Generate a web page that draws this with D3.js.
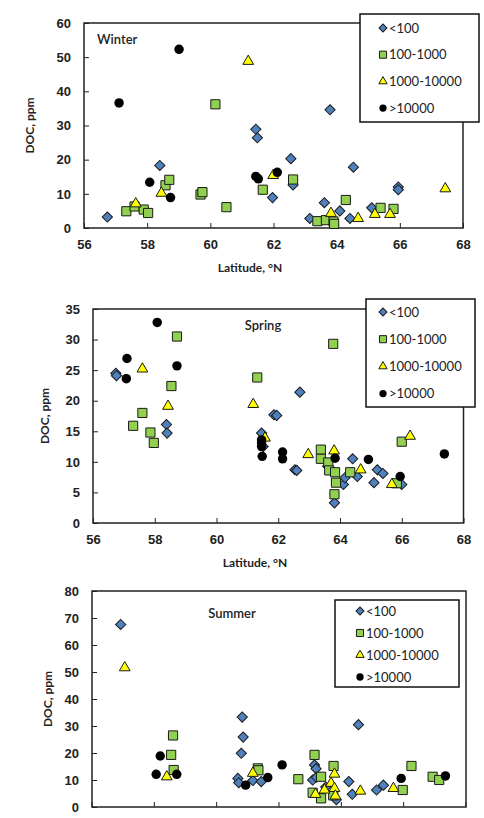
<!DOCTYPE html>
<html>
<head>
<meta charset="utf-8">
<script src="https://cdn.jsdelivr.net/npm/d3@7"></script>
<style>
  body { margin: 0; background: #fff; }
  svg { display: block; font-family: Lato, "Open Sans", sans-serif; }
  .tick text { font-weight: bold; font-size: 13px; fill: #222; }
</style>
</head>
<body>
<div id="chart"></div>
<script>
// classes (upstream area etc.)
var classes = ["<100", "100-1000", "1000-10000", ">10000"];
var xTicks = [56, 58, 60, 62, 64, 66, 68];

// [latitude, DOC]
var winterLt100 = [[56.74,3.2],[58.40,18.3],[61.44,28.9],[61.49,26.4],[63.79,34.6],[62.55,20.3],[62.62,12.6],[61.97,8.9],[64.53,17.8],[63.61,7.4],[64.10,5.0],[63.15,2.8],[64.42,2.8],[65.11,5.9],[65.95,12.0],[65.95,11.2]];
var winter100 = [[57.34,4.9],[57.60,6.3],[57.89,5.4],[58.03,4.4],[58.58,12.5],[58.70,14.1],[59.69,9.8],[59.75,10.5],[60.16,36.2],[60.51,6.1],[61.66,11.2],[62.62,14.2],[63.39,2.0],[63.66,2.3],[63.90,1.9],[63.92,1.2],[64.29,8.2],[65.39,5.9],[65.80,5.6]];
var winter1000 = [[57.64,7.1],[58.45,10.2],[61.20,48.8],[61.99,15.4],[63.82,4.3],[64.68,2.8],[65.21,4.0],[65.69,4.0],[67.44,11.5]];
var winterGt10000 = [[57.11,36.6],[59.01,52.3],[58.08,13.4],[58.74,8.9],[61.44,15.1],[61.52,14.4],[62.12,16.3]];

var springLt100 = [[56.74,24.5],[56.76,24.1],[58.38,16.1],[58.40,14.7],[61.46,14.7],[61.51,12.5],[61.86,17.7],[61.95,17.6],[62.70,21.4],[62.54,8.7],[62.60,8.6],[64.41,10.5],[64.11,6.3],[64.16,7.4],[64.56,7.6],[65.21,8.7],[65.39,8.1],[65.10,6.6],[66.00,6.3],[63.82,3.3],[63.60,9.3]];
var spring100 = [[57.30,15.9],[57.60,18.0],[57.86,14.8],[57.97,13.1],[58.54,22.4],[58.72,30.5],[61.32,23.8],[63.78,29.3],[63.38,12.0],[63.38,10.5],[63.62,9.9],[63.65,8.6],[63.84,8.3],[63.87,6.6],[63.82,4.7],[64.33,8.3],[65.84,6.5],[66.00,13.3]];
var spring1000 = [[57.60,25.2],[58.43,19.1],[61.19,19.4],[61.57,13.9],[62.97,11.2],[63.81,11.8],[64.67,8.7],[65.68,6.3],[66.27,14.2]];
var springGt10000 = [[58.08,32.8],[57.10,26.9],[57.08,23.6],[58.72,25.7],[61.46,13.6],[61.46,13.1],[61.46,12.5],[61.48,10.9],[62.14,11.6],[62.14,10.5],[63.84,10.6],[64.92,10.4],[65.95,7.6],[67.38,11.3]];

var summerLt100 = [[56.92,67.6],[60.82,33.3],[60.85,25.9],[60.79,19.9],[60.68,10.6],[60.71,9.0],[61.16,9.8],[61.43,9.4],[63.14,15.6],[63.19,14.2],[63.08,10.0],[63.20,11.0],[64.55,30.5],[64.24,9.4],[64.35,4.7],[65.13,6.3],[65.35,8.1],[63.84,2.7],[63.50,7.4]];
var summer100 = [[58.60,26.5],[58.54,19.3],[58.62,13.7],[61.32,14.3],[61.34,13.6],[62.62,10.3],[63.14,19.3],[63.08,5.3],[63.35,3.2],[63.35,11.2],[63.75,15.2],[63.74,4.3],[65.97,6.3],[66.25,15.2],[66.93,11.2],[67.14,10.0]];
var summer1000 = [[57.05,51.6],[58.40,11.2],[61.16,12.5],[63.17,4.7],[63.46,6.3],[63.67,8.8],[63.78,6.9],[63.78,12.2],[63.81,4.1],[64.61,5.9],[65.67,6.9]];
var summerGt10000 = [[58.06,12.1],[58.19,18.9],[58.72,12.1],[60.93,8.1],[61.64,10.9],[62.10,15.6],[65.92,10.6],[67.34,11.5]];

var fills = ["#4f81bd", "#92d050", "#ffff00", "#000000"];

var svg = d3.select("#chart").append("svg")
  .attr("width", 484)
  .attr("height", 818);

function markerPath(i, big) {
  var s = big ? 1 : 0.6;
  if (i == 0) return d3.symbol().type(d3.symbolSquare).size(52 * s)();
  if (i == 1) return d3.symbol().type(d3.symbolSquare).size(84 * s)();
  if (i == 2) return d3.symbol().type(d3.symbolTriangle).size(50 * s)();
  return d3.symbol().type(d3.symbolCircle).size(70 * s)();
}

function drawMarks(g, data, i, x, y) {
  g.selectAll("path.m" + i)
    .data(data)
    .enter().append("path")
    .attr("class", "m" + i)
    .attr("d", markerPath(i, true))
    .attr("transform", function (d) {
      return "translate(" + x(d[0]) + "," + y(d[1]) + ")" + (i == 0 ? " rotate(45)" : "");
    })
    .attr("fill", fills[i])
    .attr("stroke", i == 3 ? "none" : "#1a1a1a")
    .attr("stroke-width", 1);
}

function panel(p) {
  var x = d3.scaleLinear().domain([56, 68]).range([p.left, p.right]);
  var y = d3.scaleLinear().domain([0, p.ymax]).range([p.bottom, p.top]);
  var g = svg.append("g");

  var yAxis = g.append("g")
    .attr("transform", "translate(" + p.left + ",0)")
    .call(d3.axisLeft(y).tickValues(d3.range(0, p.ymax + 1, p.ystep)).tickSizeInner(-5).tickSizeOuter(0).tickPadding(13));
  yAxis.select(".domain").remove();
  yAxis.selectAll("line").attr("stroke", "#222");

  if (p.xlabels) {
    var xAxis = g.append("g")
      .attr("transform", "translate(0," + p.bottom + ")")
      .call(d3.axisBottom(x).tickValues(xTicks).tickSizeInner(-5).tickSizeOuter(0).tickPadding(12));
    xAxis.select(".domain").remove();
    xAxis.selectAll("line").attr("stroke", "#222");
  } else {
    g.selectAll("line.xt").data(xTicks).enter().append("line")
      .attr("x1", function (d) { return x(d); }).attr("x2", function (d) { return x(d); })
      .attr("y1", p.bottom).attr("y2", p.bottom - 5)
      .attr("stroke", "#222");
  }

  g.append("rect")
    .attr("x", p.left).attr("y", p.top)
    .attr("width", p.right - p.left).attr("height", p.bottom - p.top)
    .attr("fill", "none").attr("stroke", "#222").attr("stroke-width", 1.5);

  p.series.forEach(function (s, i) { drawMarks(g, s, i, x, y); });

  g.append("text")
    .attr("x", p.titleX).attr("y", p.titleY)
    .attr("text-anchor", p.titleAnchor)
    .attr("dy", "0.35em")
    .style("font-size", "13px").style("font-weight", "600").style("fill", "#222")
    .text(p.title);

  g.append("text")
    .attr("transform", "translate(" + p.ylabX + "," + ((p.top + p.bottom) / 2) + ") rotate(-90)")
    .attr("text-anchor", "middle")
    .attr("dy", "0.35em")
    .style("font-size", "12px").style("font-weight", "bold").style("fill", "#222")
    .text("DOC, ppm");

  if (p.xlabels) {
    g.append("text")
      .attr("x", p.xlabX).attr("y", p.bottom + 40)
      .attr("text-anchor", "middle")
      .attr("dy", "0.35em")
      .style("font-size", "12px").style("font-weight", "bold").style("fill", "#222")
      .text("Latitude, °N");
  }

  // legend
  var L = p.legend;
  var lg = g.append("g");
  lg.append("rect")
    .attr("x", L.x).attr("y", L.y).attr("width", L.w).attr("height", L.h)
    .attr("fill", "#fff").attr("stroke", "#111").attr("stroke-width", 1.5);
  classes.forEach(function (c, i) {
    var cy = L.y + L.first + i * L.gap;
    lg.append("path")
      .attr("d", markerPath(i, false))
      .attr("transform", "translate(" + (L.x + L.mx) + "," + cy + ")" + (i == 0 ? " rotate(45)" : ""))
      .attr("fill", fills[i])
      .attr("stroke", i == 3 ? "none" : "#1a1a1a");
    lg.append("text")
      .attr("x", L.x + L.mx + 6).attr("y", cy)
      .attr("dy", "0.35em")
      .style("font-size", "13px").style("fill", "#222")
      .text(c);
  });
}

panel({
  left: 84, right: 463, top: 23, bottom: 228, ymax: 60, ystep: 10, xlabels: true, xlabX: 250,
  series: [winterLt100, winter100, winter1000, winterGt10000],
  title: "Winter", titleX: 97, titleY: 39, titleAnchor: "start", ylabX: 30,
  legend: { x: 360, y: 14, w: 119, h: 108, first: 14, gap: 26.7, mx: 23 }
});

panel({
  left: 93, right: 463.5, top: 309, bottom: 523, ymax: 35, ystep: 5, xlabels: true, xlabX: 255,
  series: [springLt100, spring100, spring1000, springGt10000],
  title: "Spring", titleX: 263, titleY: 325, titleAnchor: "middle", ylabX: 45,
  legend: { x: 366, y: 299, w: 109, h: 108, first: 13, gap: 27.2, mx: 17 }
});

panel({
  left: 92, right: 466, top: 591, bottom: 807, ymax: 80, ystep: 10, xlabels: false,
  series: [summerLt100, summer100, summer1000, summerGt10000],
  title: "Summer", titleX: 232, titleY: 613, titleAnchor: "middle", ylabX: 48,
  legend: { x: 335, y: 600, w: 124, h: 87, first: 11, gap: 22, mx: 25 }
});
</script>
</body>
</html>
